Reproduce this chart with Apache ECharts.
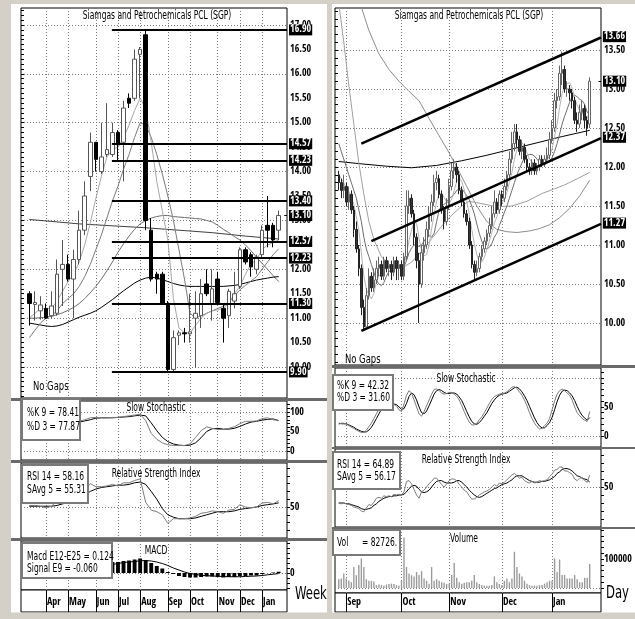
<!DOCTYPE html>
<html><head><meta charset="utf-8">
<script src="https://cdn.jsdelivr.net/npm/echarts@6.0.0/dist/echarts.min.js"></script>
<style>html,body{margin:0;padding:0;background:#fff;}#c{width:635px;height:619px;}</style>
</head><body><div id="c"></div>
<script>
const FONT='"Liberation Sans Narrow","Open Sans Condensed","Roboto Condensed","DejaVu Sans Condensed",sans-serif';
const TITLE='Siamgas and Petrochemicals PCL (SGP)';
// ================= WEEKLY (left) =================
const wMonths=['Apr','May','Jun','Jul','Aug','Sep','Oct','Nov','Dec','Jan'];
const wMonthStart=[4,8,13,17,21,26,30,35,39,43];
const wCount=48, wFirst=1;
// [open, close, low, high]
const wOHLC=[[11.50,11.30,10.85,11.55],[11.28,11.32,10.95,11.55],[11.15,11.27,10.97,11.45],[11.20,11.00,10.98,11.30],[11.05,11.25,11.00,11.55],[11.10,11.90,11.05,12.20],[12.00,12.10,11.25,12.60],[12.10,11.80,11.75,12.30],[11.80,12.20,11.00,12.40],[12.20,12.80,12.10,13.20],[12.80,13.50,12.70,13.80],[13.90,14.60,13.60,14.80],[14.60,14.25,14.00,14.60],[14.00,14.30,13.95,15.00],[14.35,14.45,14.30,15.40],[14.35,14.80,14.30,15.00],[14.80,14.55,14.20,14.85],[14.60,15.30,13.80,15.45],[15.50,15.40,15.30,15.60],[15.50,16.30,15.45,16.50],[16.40,16.50,15.50,16.55],[16.80,13.00,12.80,16.90],[12.80,11.80,11.75,13.05],[11.90,11.80,11.50,11.95],[11.90,11.30,11.30,11.95],[11.30,9.95,9.90,11.35],[9.95,10.60,9.90,10.75],[10.65,10.70,10.45,10.75],[10.70,10.68,10.50,10.80],[10.68,10.72,10.50,11.50],[11.00,11.10,10.00,11.55],[11.05,11.50,10.80,11.80],[11.70,11.50,11.45,12.00],[11.30,11.60,10.95,12.00],[11.80,11.32,11.30,11.95],[11.20,11.00,10.50,11.30],[11.05,11.55,10.80,11.60],[11.35,11.50,11.20,11.95],[11.65,12.40,11.60,12.45],[12.40,12.15,12.10,12.45],[12.30,12.05,11.85,12.35],[12.00,12.25,11.90,12.30],[12.30,12.80,12.25,12.90],[12.90,12.80,12.45,13.50],[12.90,12.60,12.45,12.95],[12.80,13.10,12.60,13.20]];
const wMA5=[11.0,11.1,11.2,11.2,11.2,11.35,11.55,11.75,11.9,12.15,12.5,12.95,13.45,13.9,14.3,14.45,14.5,14.7,14.95,15.25,15.5,15.3,14.6,13.8,13.2,12.6,11.4,10.8,10.7,10.7,10.85,11.0,11.1,11.15,11.17,11.2,11.3,11.5,11.65,11.9,12.1,12.2,12.4,12.5,12.55,12.6];
const wMA10=[10.6,10.75,10.9,11.0,11.05,11.15,11.3,11.4,11.5,11.65,11.85,12.1,12.4,12.7,13.05,13.4,13.7,14.05,14.35,14.7,15.0,14.95,14.7,14.35,13.95,13.5,13.0,12.4,11.8,11.1,11.0,11.05,11.1,11.15,11.2,11.24,11.32,11.45,11.58,11.67,11.76,11.85,12.0,12.15,12.3,12.42];
const wMA20=[10.9,10.88,10.86,10.84,10.83,10.84,10.87,10.92,10.97,11.02,11.06,11.1,11.15,11.22,11.3,11.38,11.47,11.56,11.64,11.72,11.78,11.82,11.84,11.82,11.79,11.75,11.71,11.68,11.66,11.65,11.65,11.65,11.65,11.65,11.65,11.65,11.66,11.67,11.69,11.72,11.75,11.78,11.8,11.82,11.84,11.85];
const wMA26=[11.0,11.0,11.01,11.02,11.04,11.07,11.11,11.16,11.22,11.3,11.4,11.52,11.65,11.8,11.97,12.15,12.35,12.52,12.68,12.82,12.93,13.0,13.05,13.08,13.1,13.1,13.08,13.07,13.06,13.05,13.04,13.03,13.0,12.97,12.9,12.82,12.75,12.67,12.6,12.5,12.38,12.25,12.12,12.0,11.87,11.75];
const wMA40=[[1,13.02],[10,12.93],[22,12.85],[34,12.75],[40,12.68],[46,12.62]];
const wLevels=[16.90,14.57,14.23,13.40,12.57,12.23,11.30,9.90];
const wLast=13.10;
const wPriceLabels=[10.0,10.5,11.0,11.5,12.0,12.5,13.0,13.5,14.0,14.5,15.0,15.5,16.0,16.5,17.0];
const wK=[60,55,50,40,45,60,70,72,75,76,80,85,86,85,85,86,86,88,90,92,94,78,45,30,21,16,14,14,14,18,35,52,62,58,55,55,58,62,70,76,76,77,83,85,80,78.41];
const wD=[62,58,55,48,45,50,58,67,72,74,77,80,84,85,85,85,86,87,88,90,92,90,72,52,35,24,18,15,14,15,21,34,50,57,58,56,56,58,63,69,74,76,79,81,82,77.87];
const wRSI=[52,52,51,49,51,58,60,56,61,67,73,80,76,76,77,79,77,81,81,84,86,56,46,44,40,29,35,35,35,36,38,42,43,45,44,42,46,47,53,50,49,50,55,56,54,58.16];
const wRSIavg=[51,51,51,51,51,52,54,56,58,61,65,70,73,75,76,77,78,78,79,81,82,79,70,60,48,40,37,35,35,35,36,38,40,42,44,44,44,45,47,48,49,50,52,53,54,55.31];
const wMACD=[0.1,0.08,0.05,0.0,0.0,0.1,0.2,0.25,0.3,0.45,0.6,0.85,0.95,1.0,1.05,1.1,1.1,1.2,1.25,1.35,1.45,1.3,1.0,0.7,0.45,0.1,-0.1,-0.3,-0.4,-0.45,-0.45,-0.4,-0.35,-0.35,-0.4,-0.45,-0.4,-0.4,-0.3,-0.3,-0.25,-0.25,-0.1,0.0,0.05,0.124];
const wSignal=[0.1,0.1,0.09,0.08,0.07,0.08,0.1,0.13,0.17,0.23,0.3,0.4,0.5,0.6,0.7,0.85,0.95,1.05,1.1,1.15,1.22,1.25,1.2,1.1,0.95,0.75,0.5,0.3,0.1,-0.05,-0.15,-0.22,-0.27,-0.3,-0.32,-0.35,-0.37,-0.38,-0.37,-0.35,-0.32,-0.3,-0.25,-0.18,-0.12,-0.06];
// ================= DAILY (right) =================
const dMonths=['Sep','Oct','Nov','Dec','Jan'];
const dMonthStart=[4,26,45,66,86];
const dCount=106, dFirst=1;
const dOHLC=[[11.90,11.80,11.70,11.95],[11.80,11.70,11.60,11.85],[11.70,11.75,11.60,11.90],[11.75,11.55,11.50,11.80],[11.55,11.65,11.45,11.75],[11.65,11.45,11.40,11.70],[11.45,11.20,11.10,11.50],[11.20,10.95,10.90,11.30],[10.95,10.70,10.60,11.00],[10.70,10.20,10.10,10.75],[10.20,9.95,9.90,10.30],[9.95,10.35,9.95,10.45],[10.35,10.60,10.30,10.70],[10.60,10.45,10.40,10.65],[10.45,10.55,10.40,10.70],[10.55,10.70,10.50,10.80],[10.70,10.75,10.60,10.85],[10.75,10.60,10.55,10.80],[10.60,10.80,10.55,10.85],[10.80,10.70,10.65,10.85],[10.70,10.75,10.60,10.80],[10.75,10.65,10.55,10.80],[10.65,10.80,10.60,10.85],[10.80,10.70,10.55,10.85],[10.70,10.75,10.55,10.80],[10.75,10.60,10.55,10.80],[10.60,10.85,10.55,10.90],[10.85,11.50,10.80,11.70],[11.50,11.60,11.40,11.70],[11.60,11.40,11.35,11.65],[11.40,11.10,11.00,11.45],[11.10,10.80,10.70,11.15],[10.80,10.50,10.00,10.90],[10.50,10.90,10.45,11.00],[10.90,11.00,10.80,11.10],[11.00,11.20,10.95,11.30],[11.20,11.40,11.10,11.50],[11.40,11.55,11.30,11.65],[11.55,11.80,11.50,11.90],[11.80,11.85,11.70,11.95],[11.85,11.65,11.60,11.90],[11.65,11.45,11.40,11.70],[11.45,11.30,11.20,11.50],[11.30,11.50,11.25,11.60],[11.50,11.75,11.45,11.85],[11.75,11.95,11.70,12.05],[11.95,12.00,11.85,12.10],[12.00,11.90,11.80,12.05],[11.90,11.70,11.65,11.95],[11.70,11.55,11.50,11.75],[11.55,11.40,11.35,11.60],[11.40,11.30,11.25,11.45],[11.30,11.00,10.95,11.35],[11.00,10.75,10.70,11.05],[10.75,10.65,10.55,10.80],[10.65,10.70,10.60,10.80],[10.70,10.85,10.65,10.90],[10.85,10.95,10.80,11.00],[10.95,11.05,10.90,11.10],[11.05,11.15,11.00,11.20],[11.15,11.25,11.10,11.35],[11.25,11.40,11.20,11.50],[11.40,11.55,11.35,11.70],[11.55,11.45,11.40,11.60],[11.45,11.65,11.40,11.70],[11.65,11.60,11.50,11.70],[11.60,11.75,11.55,11.85],[11.75,11.90,11.70,11.95],[11.90,12.10,11.85,12.20],[12.10,12.30,12.05,12.45],[12.30,12.45,12.20,12.55],[12.45,12.35,12.25,12.55],[12.35,12.20,12.15,12.40],[12.20,12.25,12.10,12.35],[12.25,12.10,12.05,12.30],[12.10,12.00,11.95,12.15],[12.00,11.95,11.90,12.05],[11.95,12.05,11.90,12.10],[12.05,11.95,11.90,12.10],[11.95,12.00,11.90,12.05],[12.00,12.10,11.95,12.15],[12.10,12.05,12.00,12.15],[12.05,12.10,12.00,12.15],[12.10,12.15,12.05,12.25],[12.15,12.35,12.10,12.45],[12.35,12.50,12.30,12.60],[12.50,12.85,12.45,12.95],[12.85,12.90,12.75,13.00],[12.90,13.20,12.85,13.30],[13.20,13.25,13.05,13.48],[13.25,13.00,12.95,13.30],[13.00,13.00,12.90,13.10],[13.00,12.95,12.85,13.05],[12.95,12.85,12.75,13.00],[12.85,12.60,12.55,12.90],[12.60,12.55,12.45,12.70],[12.55,12.70,12.50,12.80],[12.70,12.75,12.60,12.85],[12.75,12.60,12.50,12.80],[12.60,12.50,12.40,12.65],[12.55,13.10,12.50,13.15]];
const dMA5=[11.9,11.85,11.8,11.72,11.69,11.62,11.52,11.36,11.19,10.9,10.6,10.43,10.36,10.31,10.38,10.53,10.61,10.61,10.68,10.71,10.72,10.7,10.74,10.72,10.73,10.7,10.74,10.88,11.06,11.19,11.29,11.28,11.08,10.94,10.86,10.88,11.0,11.21,11.39,11.56,11.65,11.66,11.61,11.55,11.53,11.59,11.7,11.82,11.86,11.82,11.71,11.57,11.39,11.2,11.02,10.88,10.79,10.78,10.84,10.94,11.05,11.16,11.28,11.36,11.46,11.53,11.6,11.67,11.8,11.93,12.1,12.22,12.26,12.31,12.27,12.18,12.1,12.07,12.01,11.99,12.01,12.03,12.04,12.08,12.15,12.23,12.39,12.55,12.76,12.94,13.04,13.07,13.08,13.01,12.88,12.79,12.73,12.69,12.64,12.62,12.73];
const dMA10=[12.3,12.2,12.1,12.0,11.9,11.8,11.7,11.6,11.45,11.3,11.1,10.95,10.85,10.75,10.65,10.55,10.5,10.48,10.52,10.6,10.66,10.68,10.7,10.71,10.72,10.71,10.72,10.8,10.9,10.96,11.0,11.0,10.98,11.0,11.05,11.1,11.12,11.1,11.15,11.3,11.45,11.5,11.52,11.55,11.6,11.62,11.65,11.7,11.72,11.72,11.68,11.63,11.58,11.5,11.4,11.27,11.15,11.05,10.97,10.95,10.97,11.02,11.1,11.15,11.25,11.33,11.42,11.5,11.6,11.7,11.8,11.9,11.98,12.05,12.12,12.15,12.16,12.16,12.14,12.1,12.06,12.04,12.03,12.05,12.08,12.12,12.2,12.3,12.42,12.55,12.65,12.74,12.83,12.9,12.92,12.9,12.87,12.85,12.8,12.7,12.68];
const dMA25=[[1,14.1],[3,13.6],[5,13.05],[7,12.55],[9,12.05],[11,11.65],[13,11.3],[15,11.07],[18,10.85],[22,10.72],[26,10.7],[30,10.78],[34,10.92],[38,11.08],[42,11.24],[46,11.38],[50,11.5],[53,11.56],[58,11.53],[64,11.49],[70,11.5],[76,11.56],[82,11.66],[87,11.72],[91,11.77],[96,11.85],[101,11.93]];
const dMA50=[[1,15.5],[5,14.8],[9,14.15],[13,13.75],[17,13.45],[21,13.25],[25,13.1],[29,12.97],[33,12.85],[37,12.62],[41,12.4],[45,12.18],[48,12.0],[52,11.75],[56,11.5],[60,11.3],[64,11.2],[68,11.17],[72,11.16],[77,11.18],[81,11.21],[85,11.26],[89,11.35],[93,11.47],[97,11.63],[101,11.83]];
const dMA200=[[1,12.07],[10,12.04],[20,12.01],[30,11.99],[40,12.02],[50,12.08],[60,12.15],[70,12.23],[80,12.31],[90,12.39],[101,12.47]];
// channel lines: [startIndexPos, startValue, endIndexPos, endValue]
const dChannels=[[10.5,12.30,106,13.66],[14.5,11.05,106,12.37],[10.5,9.90,106,11.27]];
const dLast=13.10;
const dPriceLabels=[10.0,10.5,11.0,11.5,12.0,12.5,13.0,13.5];
const dK=[20,22,22,20,18,15,13,10,8,6,6,10,16,22,30,38,46,55,58,57,56,55,54,52,45,42,55,70,78,74,62,50,38,34,42,52,62,72,80,81,78,74,72,73,75,75,72,68,62,52,42,32,24,19,19,22,28,33,40,48,56,63,68,70,72,73,74,76,80,84,85,82,76,70,62,52,40,30,22,16,12,13,18,22,30,45,60,72,78,81,78,74,70,62,50,40,35,30,27,25,42.32];
const dD=[22,21,21,21,19,17,15,12,10,8,7,7,10,15,22,30,38,46,53,56,57,56,55,54,50,46,47,56,68,74,71,62,50,40,38,43,52,62,72,78,80,78,75,73,73,74,74,72,67,61,52,42,33,25,21,20,23,28,34,40,48,56,62,67,70,72,73,74,77,80,83,84,81,76,69,61,51,41,31,23,17,14,14,18,23,32,45,59,70,77,79,78,74,69,61,51,42,35,31,27,31.60];
const dRSI=[30,29,30,29,28,27,25,24,23,20,19,24,28,27,31,36,37,36,39,38,39,38,41,40,41,40,44,57,58,54,47,40,36,44,46,50,54,57,61,61,57,53,50,54,58,60,60,58,53,50,46,44,39,35,35,37,40,42,44,45,47,50,53,51,55,54,56,59,62,65,67,64,61,62,58,56,55,57,55,56,58,57,58,59,63,66,71,72,75,75,70,70,68,66,60,58,61,62,58,56,64.89];
const dRSIavg=[30,30,30,29,29,28,27,26,25,23,22,22,23,24,27,29,32,34,36,37,38,38,39,39,40,40,41,44,48,51,52,51,47,44,43,44,46,50,54,57,58,58,56,55,55,55,56,58,58,56,53,50,46,43,40,38,37,38,40,42,44,46,48,49,51,53,54,55,57,59,62,64,64,64,62,60,58,57,56,56,56,57,57,58,59,61,63,67,69,72,73,73,72,70,67,64,63,61,60,59,56.17];
const dVol=[30000,33000,50000,33000,25000,20000,72000,44000,79000,102000,72000,30000,25000,25000,22000,10000,12000,10000,8000,12000,14000,15000,14000,10000,8000,25000,174000,72000,50000,44000,40000,55000,45000,58000,33000,25000,15000,72000,25000,30000,25000,20000,18000,14000,14000,45000,86000,35000,20000,15000,18000,20000,20000,25000,45000,20000,14000,10000,8000,8000,8000,10000,40000,20000,14000,10000,25000,33000,20000,33000,125000,72000,50000,40000,25000,15000,10000,8000,8000,8000,10000,10000,15000,20000,25000,25000,102000,55000,98000,45000,45000,33000,33000,33000,45000,30000,20000,20000,35000,35000,82726];

// ================= helpers =================
const pad=(arr,first,n)=>{const o=new Array(n).fill('-');arr.forEach((v,i)=>{o[first+i]=v;});return o;};
const range=(a,b,s)=>{const o=[];for(let v=a;v<=b+1e-9;v+=s)o.push(Math.round(v*100)/100);return o;};
const xAxes=[],yAxes=[],series=[];
const AX_FS=10;
function catX(grid,n,starts,names,strip){
  const cats=[];for(let i=0;i<n;i++)cats.push(String(i));
  const isStart=i=>starts.indexOf(i)>=0;
  const ax={type:'category',gridIndex:grid,data:cats,boundaryGap:true,
    axisLine:{show:false},axisTick:{show:false},axisLabel:{show:false},
    splitLine:{show:true,interval:(i)=>isStart(i),alignWithLabel:true,
      lineStyle:{color:strip?'#000':'#7a7a7a',width:1,type:strip?'solid':[1,2]}}};
  if(strip){ax.axisLabel={show:true,inside:true,interval:(i)=>isStart(i),
    formatter:(v,i)=>names[starts.indexOf(i)]||'',align:'left',margin:5,padding:[0,0,0,1],
    color:'#000',fontSize:AX_FS,fontFamily:FONT};}
  xAxes.push(ax);return xAxes.length-1;
}
function valX(grid,max){xAxes.push({type:'value',gridIndex:grid,position:'top',min:0,max:max,show:false});return xAxes.length-1;}
function addY(grid,min,max,o){
  o=o||{};
  const idx=yAxes.length;
  yAxes.push({type:'value',gridIndex:grid,position:'right',min:min,max:max,
    axisLine:{show:false},
    axisTick:o.fine?{show:true,inside:false,length:3,customValues:o.fine,lineStyle:{color:'#000'}}:{show:false},
    axisLabel:o.labels?{show:true,customValues:o.labels,formatter:o.fmt||(v=>String(v)),margin:3,color:'#000',fontSize:AX_FS,fontFamily:FONT}:{show:false},
    splitLine:{show:false}});
  if(o.split){
    yAxes.push({type:'value',gridIndex:grid,position:'right',min:min,max:max,axisLine:{show:false},axisLabel:{show:false},
      axisTick:{show:false,customValues:o.split},splitLine:{show:true,lineStyle:{color:'#7a7a7a',width:1,type:[1,2]}}});
  }
  return idx;
}
const lineS=(x,y,data,color,w)=>({type:'line',xAxisIndex:x,yAxisIndex:y,data:data,showSymbol:false,symbol:'none',
  lineStyle:{color:color,width:w||1},itemStyle:{color:color},smooth:false,silent:true,z:3});

// ================= grids =================
const gridBox=(l,t,w,h)=>({left:l,top:t,width:w,height:h,show:true,borderColor:'#000',borderWidth:1,backgroundColor:'#fff',containLabel:false});
const grids=[gridBox(21,8,266,390),gridBox(21,401,266,59),gridBox(21,463,266,75),gridBox(21,541,266,49),gridBox(21,590,266,22),
  gridBox(335,8,266,357),gridBox(335,368,266,79),gridBox(335,449,266,78),gridBox(335,529,266,64),gridBox(335,593,266,19)];

const xw=[0,1,2,3].map(g=>catX(g,wCount,wMonthStart,wMonths,false));
catX(4,wCount,wMonthStart,wMonths,true);
const xd=[5,6,7,8].map(g=>catX(g,dCount,dMonthStart,dMonths,false));
catX(9,dCount,dMonthStart,dMonths,true);
const xwLev=valX(0,wCount), xdLev=valX(5,dCount);
const fmt2=v=>v.toFixed(2);
const yWP=addY(0,9.366,17.348,{labels:wPriceLabels,fmt:fmt2,fine:range(9.4,17.3,0.1),split:range(10,17,1)});
const yWS=addY(1,-23,128,{labels:[0,50,100],fine:range(0,120,10),split:[0,100]});
const yWR=addY(2,10.3,106.4,{labels:[50],fine:range(20,100,10),split:[50]});
const yWM=addY(3,-1.7,3.2,{labels:[0],fine:range(-1.5,3,0.5),split:[0]});
addY(4,0,1,{});
const yDP=addY(5,9.4615,14.038,{labels:dPriceLabels,fmt:fmt2,fine:range(9.5,14,0.1),split:dPriceLabels});
const yDS=addY(6,-19,117,{labels:[0,50],fine:range(0,110,10),split:[0,100]});
const yDR=addY(7,0,97.5,{labels:[50],fine:range(10,90,10),split:[50]});
const yDV=addY(8,-17241,203448,{labels:[100000],fmt:v=>String(v),fine:range(0,200000,20000),split:[0]});
addY(9,0,1,{});

// ================= series: left =================
series.push({type:'candlestick',xAxisIndex:xw[0],yAxisIndex:yWP,data:pad(wOHLC,wFirst,wCount),barWidth:4,silent:true,z:4,
  itemStyle:{color:'#fff',color0:'#000',borderColor:'#555',borderColor0:'#000',borderWidth:1}});
series.push(lineS(xw[0],yWP,wMA40,'#404040'));
series.push(lineS(xw[0],yWP,pad(wMA26,wFirst,wCount),'#6e6e6e'));
series.push(lineS(xw[0],yWP,pad(wMA20,wFirst,wCount),'#000'));
series.push(lineS(xw[0],yWP,pad(wMA10,wFirst,wCount),'#7c7c7c'));
series.push(lineS(xw[0],yWP,pad(wMA5,wFirst,wCount),'#a8a8a8'));
const labStyle={show:true,position:'end',distance:2,color:'#fff',backgroundColor:'#000',padding:[1,1,0,1],fontSize:AX_FS,fontFamily:FONT};
series.push({type:'line',xAxisIndex:xwLev,yAxisIndex:yWP,data:[],silent:true,z:5,
  markLine:{silent:true,symbol:['none','none'],animation:false,lineStyle:{color:'#000',width:2,type:'solid'},label:labStyle,
    data:wLevels.map(v=>[{coord:[16.4,v],label:{formatter:v.toFixed(2)}},{coord:[wCount,v]}])
      .concat([[{coord:[wCount-0.5,wLast],lineStyle:{width:1},label:{formatter:wLast.toFixed(2)}},{coord:[wCount,wLast]}]])}});
series.push(lineS(xw[1],yWS,pad(wD,wFirst,wCount),'#000'));
series.push(lineS(xw[1],yWS,pad(wK,wFirst,wCount),'#7c7c7c'));
series.push(lineS(xw[2],yWR,pad(wRSIavg,wFirst,wCount),'#000'));
series.push(lineS(xw[2],yWR,pad(wRSI,wFirst,wCount),'#7c7c7c'));
series.push({type:'bar',xAxisIndex:xw[3],yAxisIndex:yWM,data:pad(wMACD,wFirst,wCount),barWidth:'70%',itemStyle:{color:'#000'},silent:true});
series.push(lineS(xw[3],yWM,pad(wSignal,wFirst,wCount),'#000'));
// ================= series: right =================
series.push({type:'candlestick',xAxisIndex:xd[0],yAxisIndex:yDP,data:pad(dOHLC,dFirst,dCount),barWidth:2,silent:true,z:4,
  itemStyle:{color:'#fff',color0:'#333',borderColor:'#666',borderColor0:'#222',borderWidth:1}});
series.push(lineS(xd[0],yDP,dMA200,'#000'));
series.push(lineS(xd[0],yDP,dMA50,'#8c8c8c'));
series.push(lineS(xd[0],yDP,dMA25,'#a0a0a0'));
series.push(lineS(xd[0],yDP,pad(dMA10,dFirst,dCount),'#6e6e6e'));
series.push(lineS(xd[0],yDP,pad(dMA5,dFirst,dCount),'#b4b4b4'));
series.push({type:'line',xAxisIndex:xdLev,yAxisIndex:yDP,data:[],silent:true,z:5,
  markLine:{silent:true,symbol:['none','none'],animation:false,lineStyle:{color:'#000',width:2.5,type:'solid'},label:labStyle,
    data:dChannels.map(c=>[{coord:[c[0],c[1]],label:{formatter:c[3].toFixed(2)}},{coord:[c[2],c[3]]}])
      .concat([[{coord:[dCount-1,dLast],lineStyle:{width:1},label:{formatter:dLast.toFixed(2)}},{coord:[dCount,dLast]}]])}});
series.push(lineS(xd[1],yDS,pad(dD,dFirst,dCount),'#000'));
series.push(lineS(xd[1],yDS,pad(dK,dFirst,dCount),'#7c7c7c'));
series.push(lineS(xd[2],yDR,pad(dRSIavg,dFirst,dCount),'#000'));
series.push(lineS(xd[2],yDR,pad(dRSI,dFirst,dCount),'#7c7c7c'));
series.push({type:'bar',xAxisIndex:xd[3],yAxisIndex:yDV,data:pad(dVol,dFirst,dCount),barWidth:'55%',itemStyle:{color:'#9a9a9a'},silent:true});

// ================= texts (condensed via scaleX) =================
const TF='"DejaVu Sans Condensed",sans-serif';
const gt=(text,x,y,o)=>{o=o||{};return {type:'text',x:x,y:y,scaleX:o.sx||0.7,z:120,silent:true,
  style:{text:text,font:(o.size||12)+'px '+TF,fill:'#000',align:o.align||'left',verticalAlign:'middle'}};};
const gbox=(x,y,w,h)=>({type:'rect',z:115,silent:true,shape:{x:x,y:y,width:w,height:h},style:{fill:'#fff',stroke:'#7a7a7a',lineWidth:2}});
const gray='#d4d0c8', sep='#6a6a6a';
const bg=(x,y,w,h,c)=>({type:'rect',z:100,silent:true,shape:{x:x,y:y,width:w,height:h},style:{fill:c}});
const graphic=[
  bg(0,0,11,619,gray),bg(0,0,635,4,gray),bg(327,0,5,619,gray),bg(0,612.5,635,7,gray),
  bg(11,398,316,3,sep),bg(11,460,316,3,sep),bg(11,538,316,3,sep),
  bg(332,365,303,3,sep),bg(332,447,303,2,sep),bg(332,527,303,2,sep),
  gt(TITLE,157,16,{align:'center'}),gt(TITLE,469,16,{align:'center'}),
  gt('No Gaps',33,387,{sx:0.78}),gt('No Gaps',345,360,{sx:0.78}),
  gt('Slow Stochastic',156,408,{align:'center'}),gt('Relative Strength Index',156,474,{align:'center'}),gt('MACD',156,551,{align:'center'}),
  gt('Slow Stochastic',466,379,{align:'center'}),gt('Relative Strength Index',466,460,{align:'center'}),gt('Volume',464,539,{align:'center'}),
  gbox(22,399,58,41),gt('%K 9 = 78.41',27,413),gt('%D 3 = 77.87',27,427),
  gbox(22,465,66,38),gt('RSI 14 = 58.16',27,477),gt('SAvg 5 = 55.31',27,490),
  gbox(22,543,90,35),gt('Macd E12-E25 = 0.124',27,557),gt('Signal E9 = -0.060',27,569),
  gbox(333,375,60,35),gt('%K 9 = 42.32',337,386),gt('%D 3 = 31.60',337,398),
  gbox(333,452,67,37),gt('RSI 14 = 64.89',337,465),gt('SAvg 5 = 56.17',337,477),
  gbox(333,530,67,25),gt('Vol',337,543),gt('= 82726.',362,543),
  gt('Week',295,594,{size:18,sx:0.72}),gt('Day',606,593,{size:18,sx:0.72})
];

const chart=echarts.init(document.getElementById('c'),null,{renderer:'canvas'});
chart.setOption({animation:false,backgroundColor:'#fff',grid:grids,xAxis:xAxes,yAxis:yAxes,series:series,graphic:graphic});
</script></body></html>
